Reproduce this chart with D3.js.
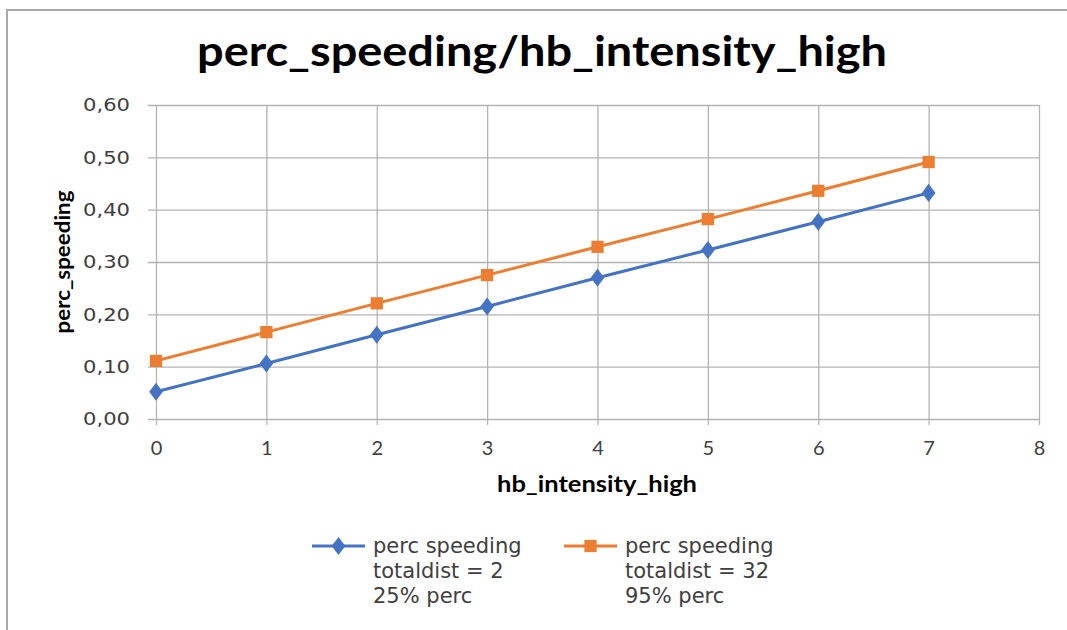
<!DOCTYPE html>
<html>
<head>
<meta charset="utf-8">
<script src="https://cdn.jsdelivr.net/npm/d3@7"></script>
<style>
  html, body { margin: 0; padding: 0; background: #fff; }
  svg { display: block; }
</style>
</head>
<body>
<svg id="chart" width="1067" height="630"></svg>
<script>
// hb_intensity_high values (x) and the two perc_speeding series
const xValues = [0, 1, 2, 3, 4, 5, 6, 7];
const seriesLow = [0.052, 0.106, 0.161, 0.215, 0.270, 0.323, 0.377, 0.432];
const seriesHigh = [0.111, 0.166, 0.221, 0.275, 0.329, 0.382, 0.436, 0.491];
const seriesLabels = [
  ["perc speeding", "totaldist = 2", "25% perc"],
  ["perc speeding", "totaldist = 32", "95% perc"]
];
const xTicks = [0, 1, 2, 3, 4, 5, 6, 7, 8];
const yTicks = [0, 0.1, 0.2, 0.3, 0.4, 0.5, 0.6];

const titleText = "perc_speeding/hb_intensity_high";
const xTitle = "hb_intensity_high";
const yTitle = "perc_speeding";

const colors = ["#4472C4", "#ED7D31"];
const gridColor = "#b4b4b4";
const textColor = "#404040";

const svg = d3.select("#chart");

// chart frame (left and top edges)
svg.append("path")
  .attr("d", "M7,630 V10 H1067")
  .attr("fill", "none")
  .attr("stroke", "#a9a9a9")
  .attr("stroke-width", 2);

const plot = { left: 156, right: 1039, top: 105, bottom: 419 };

const x = d3.scaleLinear().domain([0, 8]).range([plot.left, plot.right]);
const y = d3.scaleLinear().domain([0, 0.6]).range([plot.bottom, plot.top]);

// title
svg.append("text")
  .attr("x", 542).attr("y", 66)
  .attr("text-anchor", "middle")
  .attr("font-family", "Lato, 'Liberation Sans', sans-serif")
  .attr("font-weight", "bold")
  .attr("font-size", 42)
  .attr("textLength", 690)
  .attr("lengthAdjust", "spacingAndGlyphs")
  .attr("fill", "#000")
  .text(titleText);

// y gridlines + labels
const yAxis = d3.axisLeft(y)
  .tickValues(yTicks)
  .tickSize(0)
  .tickFormat(d => d3.format(".2f")(d).replace(".", ","));

const gy = svg.append("g")
  .attr("transform", `translate(${plot.left - 8},0)`)
  .call(yAxis);
gy.select(".domain").remove();
gy.selectAll(".tick line")
  .attr("stroke", gridColor).attr("stroke-width", 1.3)
  .attr("x1", 0).attr("x2", plot.right - plot.left + 8);
gy.selectAll(".tick text")
  .attr("x", -18)
  .attr("font-family", "'DejaVu Sans', 'Open Sans', sans-serif")
  .attr("font-size", 18)
  .attr("textLength", 47)
  .attr("lengthAdjust", "spacingAndGlyphs")
  .attr("fill", textColor);

// x gridlines + labels
const xAxis = d3.axisBottom(x)
  .tickValues(xTicks)
  .tickSize(0)
  .tickFormat(d3.format("d"));

const gx = svg.append("g")
  .attr("transform", `translate(0,${plot.bottom})`)
  .call(xAxis);
gx.select(".domain").remove();
gx.selectAll(".tick line")
  .attr("stroke", gridColor).attr("stroke-width", 1.3)
  .attr("y1", 6).attr("y2", -(plot.bottom - plot.top));
gx.selectAll(".tick text")
  .attr("y", 22)
  .attr("font-family", "Lato, 'Liberation Sans', sans-serif")
  .attr("font-size", 20)
  .attr("fill", textColor);

// axis titles
svg.append("text")
  .attr("x", 597).attr("y", 492)
  .attr("text-anchor", "middle")
  .attr("font-family", "Lato, 'Liberation Sans', sans-serif")
  .attr("font-weight", "bold")
  .attr("font-size", 22)
  .attr("textLength", 200)
  .attr("lengthAdjust", "spacingAndGlyphs")
  .text(xTitle);

svg.append("text")
  .attr("transform", "translate(70,262) rotate(-90)")
  .attr("text-anchor", "middle")
  .attr("font-family", "Lato, 'Liberation Sans', sans-serif")
  .attr("font-weight", "bold")
  .attr("font-size", 21)
  .attr("textLength", 143)
  .attr("lengthAdjust", "spacingAndGlyphs")
  .text(yTitle);

// series
const allSeries = [seriesLow, seriesHigh];
const line = d3.line().x((d, i) => x(xValues[i])).y(d => y(d));
const markerPath = k => k === 0
  ? d3.symbol(d3.symbolDiamond, 95)()
  : d3.symbol(d3.symbolSquare, 150)();

allSeries.forEach((vals, k) => {
  svg.append("path")
    .datum(vals)
    .attr("d", line)
    .attr("fill", "none")
    .attr("stroke", colors[k])
    .attr("stroke-width", 3);
  svg.append("g").selectAll("path")
    .data(vals)
    .join("path")
    .attr("transform", (d, i) => `translate(${x(xValues[i])},${y(d)}) scale(${k === 0 ? "1.3,1" : "1,1"})`)
    .attr("d", markerPath(k))
    .attr("fill", colors[k]);
});

// legend: one text element per line
const legendX = [312, 564];
seriesLabels.forEach((lines, k) => {
  const g = svg.append("g").attr("transform", `translate(${legendX[k]},546)`);
  g.append("line")
    .attr("x1", 0).attr("x2", 53).attr("y1", 0).attr("y2", 0)
    .attr("stroke", colors[k]).attr("stroke-width", 3);
  g.append("path")
    .attr("transform", `translate(26.5,0) scale(${k === 0 ? "1.3,1" : "1,1"})`)
    .attr("d", markerPath(k))
    .attr("fill", colors[k]);
  g.selectAll("text.leg")
    .data(lines)
    .join("text")
    .attr("class", "leg")
    .attr("x", 61)
    .attr("y", (s, i) => 7 + i * 25)
    .attr("font-family", "'DejaVu Sans', 'Open Sans', sans-serif")
    .attr("font-size", 21)
    .attr("fill", textColor)
    .text(s => s);
});
</script>
</body>
</html>
